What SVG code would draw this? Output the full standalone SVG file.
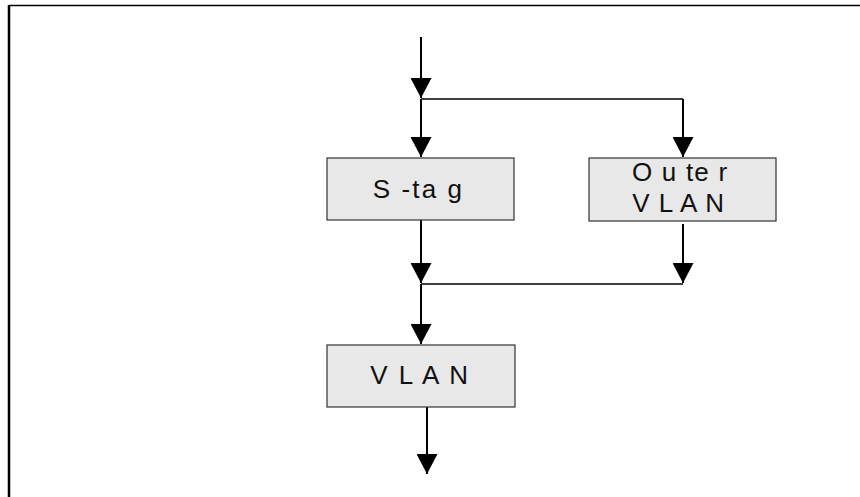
<svg xmlns="http://www.w3.org/2000/svg" width="860" height="497" viewBox="0 0 860 497">
<style>
.box{fill:#e8e8e8;stroke:#333;stroke-width:1.2}
.lbl{font-family:"Liberation Sans",Arial,sans-serif;font-size:26px;fill:#111}
.v{stroke:#000;stroke-width:2;fill:none}
.h{stroke:#000;stroke-width:1.5;fill:none}
.frame{stroke:#000;fill:none}
</style>
<defs>
<marker id="arr" viewBox="0 0 20 21" refX="20" refY="10.5" markerWidth="20" markerHeight="21" markerUnits="userSpaceOnUse" orient="auto">
<path d="M0,0 L20,10.5 L0,21 z" fill="#000"/>
</marker>
</defs>
<rect width="860" height="497" fill="#fff"/>
<g id="frame">
<line class="frame" x1="9" y1="5.5" x2="860" y2="5.5" stroke-width="1.5"/>
<line class="frame" x1="9" y1="5" x2="9" y2="497" stroke-width="2.5"/>
</g>
<g id="connectors">
<line class="v" x1="421" y1="37" x2="421" y2="98" marker-end="url(#arr)"/>
<line class="v" x1="421" y1="99" x2="421" y2="157" marker-end="url(#arr)"/>
<polyline class="h" points="421,99 683,99"/>
<line class="v" x1="683" y1="99" x2="683" y2="157" marker-end="url(#arr)"/>
<line class="v" x1="421" y1="220" x2="421" y2="283" marker-end="url(#arr)"/>
<line class="v" x1="683" y1="224" x2="683" y2="283" marker-end="url(#arr)"/>
<polyline class="h" points="421,284 683,284"/>
<line class="v" x1="421" y1="284" x2="421" y2="344" marker-end="url(#arr)"/>
<line class="v" x1="427" y1="407" x2="427" y2="474" marker-end="url(#arr)"/>
</g>
<g id="stag">
<rect class="box" x="327" y="158" width="187" height="62"/>
<text class="lbl" x="372.8" y="198" letter-spacing="2.1">S -ta g</text>
</g>
<g id="outer-vlan">
<rect class="box" x="589" y="158" width="187" height="63"/>
<text class="lbl" x="632" y="181" letter-spacing="1.2">O u te r</text>
<text class="lbl" x="632.2" y="212" letter-spacing="1">V L A N</text>
</g>
<g id="vlan">
<rect class="box" x="327" y="345" width="188" height="62"/>
<text class="lbl" x="370.2" y="384" letter-spacing="2">V L A N</text>
</g>
</svg>
